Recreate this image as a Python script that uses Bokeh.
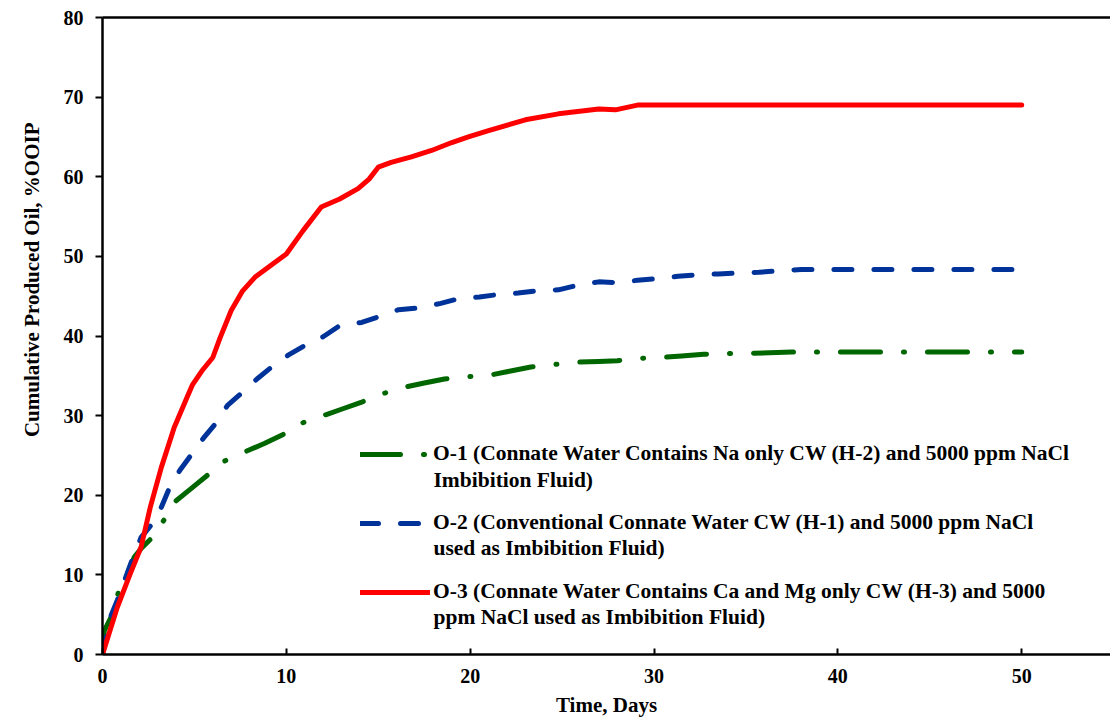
from bokeh.plotting import figure
from bokeh.models import Legend, LegendItem, LinearAxis, FixedTicker, Range1d, Label, Title
from bokeh.embed import file_html
from bokeh.resources import INLINE

# ---- data ----
t_o1 = [0, 0.1, 0.55, 0.85, 1.27, 1.72, 2.1, 2.62, 3.35, 4.0, 4.8, 5.7, 6.64, 7.8, 8.8, 9.8, 10.9, 12.0, 13.0, 14.1,
        15.3, 16.5, 17.5, 18.6, 19.9, 21.1, 22.2, 23.3, 24.5, 25.7, 27.0, 28.0, 29.2, 30.4, 31.5, 32.7, 33.9, 35, 37.5, 40, 45, 50]
v_o1 = [0, 3.0, 5.1, 7.7, 9.7, 12.2, 13.3, 14.5, 16.9, 19.3, 20.8, 22.5, 24.3, 25.5, 26.5, 27.6, 29.1, 30.0, 30.8, 31.7,
        32.8, 33.6, 34.1, 34.6, 34.9, 35.1, 35.6, 36.1, 36.4, 36.7, 36.8, 36.9, 37.2, 37.3, 37.5, 37.7, 37.8, 37.8, 38.0, 38.0, 38.0, 38.0]

t_o2 = [0, 0.45, 0.8, 1.2, 1.6, 2.1, 2.7, 3.2, 3.6, 4.2, 4.8, 5.5, 6.15, 6.8, 7.5, 8.4, 9.2, 10.1, 11.0, 12.0,
        12.9, 14.1, 15.0, 16.1, 17.1, 18.4, 19.4, 20.5, 21.5, 22.6, 23.7, 24.8, 25.9, 27.0, 28.0, 29.1, 30.2, 31.3, 32.4, 33.5,
        34.6, 35.7, 36.8, 38, 40, 45, 50]
v_o2 = [0, 4.8, 6.8, 9.3, 11.8, 14.7, 16.4, 18.5, 20.7, 23.1, 25.0, 27.2, 29.0, 31.3, 32.7, 34.6, 36.1, 37.6, 38.8, 39.9,
        41.3, 41.7, 42.4, 43.3, 43.5, 44.1, 44.7, 44.9, 45.2, 45.4, 45.7, 45.8, 46.4, 46.8, 46.7, 47.0, 47.2, 47.5, 47.7, 47.8,
        47.9, 48.0, 48.2, 48.35, 48.35, 48.35, 48.35]

t_o3 = [0, 0.8, 1.5, 2.1, 2.6, 3.2, 3.9, 4.6, 4.9, 5.4, 6.0, 6.4, 7.0, 7.6, 8.3, 9.0, 10.0, 10.9, 11.9, 12.9,
        13.9, 14.5, 15.0, 15.7, 16.8, 17.9, 19.0, 19.9, 21.0, 23.0, 24.8, 27.0, 27.9, 29.1, 35, 40, 45, 50]
v_o3 = [0, 5.9, 10.1, 13.5, 18.5, 23.5, 28.5, 32.3, 33.9, 35.6, 37.3, 39.8, 43.2, 45.6, 47.4, 48.6, 50.3, 53.2, 56.2, 57.2,
        58.5, 59.7, 61.2, 61.8, 62.5, 63.3, 64.3, 65.0, 65.8, 67.15, 67.9, 68.5, 68.4, 69.0, 69.0, 69.0, 69.0, 69.0]

x_ticks = [0, 10, 20, 30, 40, 50]
y_ticks = [0, 10, 20, 30, 40, 50, 60, 70, 80]

x_title = "Time, Days"
y_title = "Cumulative Produced Oil, %OOIP"

label_line1 = [
    "O-1 (Connate Water Contains Na only CW (H-2) and 5000 ppm NaCl",
    "O-2 (Conventional Connate Water CW (H-1) and 5000 ppm NaCl",
    "O-3 (Connate Water Contains Ca and Mg only CW (H-3) and 5000",
]
label_line2 = [
    "Imbibition Fluid)",
    "used as Imbibition Fluid)",
    "ppm NaCl used as Imbibition Fluid)",
]

FONT = "Liberation Serif"
LEG_FS = "21.5px"

p = figure(width=1110, height=719, output_backend="svg", toolbar_location=None,
           x_range=Range1d(0, 54.83), y_range=Range1d(0, 80),
           min_border_left=100, min_border_right=0, min_border_top=17, min_border_bottom=65)
p.outline_line_color = None
p.xgrid.visible = False
p.ygrid.visible = False
p.background_fill_color = "white"

r1 = p.line(t_o1, v_o1, line_color="#006600", line_width=5, line_dash="40 23 1 23",
            line_cap="round", line_join="round")
r2 = p.line(t_o2, v_o2, line_color="#003399", line_width=5, line_dash="18 22",
            line_cap="round", line_join="round")
r3 = p.line(t_o3, v_o3, line_color="#FF0000", line_width=5, line_cap="round", line_join="round")

for ax in (p.xaxis[0], p.yaxis[0]):
    ax.axis_line_width = 2.5
    ax.axis_line_color = "black"
    ax.major_tick_line_width = 2
    ax.minor_tick_line_color = None
    ax.major_label_text_font = FONT
    ax.major_label_text_font_style = "bold"
    ax.major_label_text_font_size = "20px"
    ax.major_label_text_color = "black"
    ax.axis_label_text_font = FONT
    ax.axis_label_text_font_style = "bold"
    ax.axis_label_text_color = "black"
    ax.axis_label_text_font_size = "21px"

p.xaxis.ticker = FixedTicker(ticks=x_ticks)
p.yaxis.ticker = FixedTicker(ticks=y_ticks)
p.xaxis.major_tick_in = 6
p.xaxis.major_tick_out = 0
p.yaxis.major_tick_in = 0
p.yaxis.major_tick_out = 7
p.xaxis.axis_label = x_title
p.xaxis.major_label_standoff = 14
p.yaxis.major_label_standoff = 12
p.xaxis.axis_label_standoff = 7

# y-axis title: side title aligned toward the top, as in the reference
ytitle = Title(text=y_title, align="right", offset=105, standoff=34,
               text_font=FONT, text_font_style="bold", text_font_size="21px", text_color="black")
p.add_layout(ytitle, "left")

top = LinearAxis(ticker=FixedTicker(ticks=[]), major_label_text_font_size="0px",
                 axis_line_width=2.5, major_tick_line_color=None, minor_tick_line_color=None)
p.add_layout(top, "above")

legend = Legend(items=[LegendItem(label=label_line1[0], renderers=[r1]),
                       LegendItem(label=label_line1[1], renderers=[r2]),
                       LegendItem(label=label_line1[2], renderers=[r3])],
                location=(258, 50))
legend.border_line_color = None
legend.background_fill_alpha = 0
legend.label_text_font = FONT
legend.label_text_font_style = "bold"
legend.label_text_font_size = LEG_FS
legend.label_text_color = "black"
legend.glyph_width = 70
legend.glyph_height = 20
legend.label_standoff = 3
legend.label_height = 25
legend.spacing = 44
legend.padding = 0
legend.margin = 0
p.add_layout(legend, "center")

# second lines of the legend entries
for txt, yy in zip(label_line2, (175, 107, 38)):
    p.add_layout(Label(x=331, y=yy, x_units="screen", y_units="screen", text=txt,
                       text_font=FONT, text_font_style="bold", text_font_size=LEG_FS,
                       text_color="black", text_baseline="middle"))

open("out.html", "w").write(file_html(p, INLINE))
